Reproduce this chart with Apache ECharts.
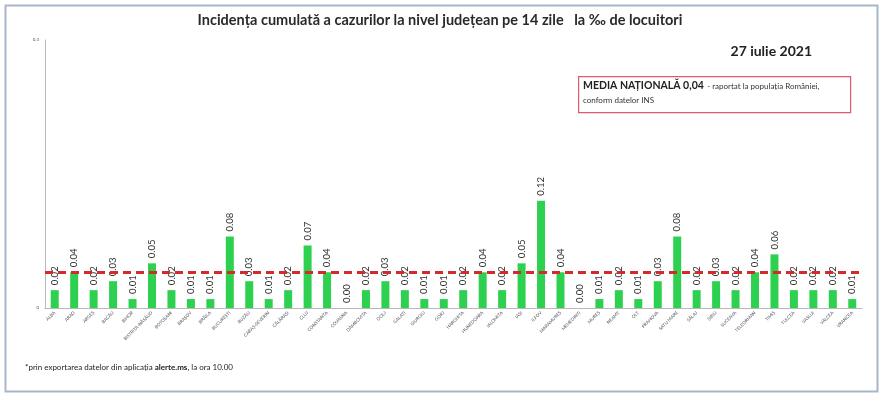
<!DOCTYPE html>
<html>
<head>
<meta charset="utf-8">
<script src="https://cdn.jsdelivr.net/npm/echarts@6/dist/echarts.min.js"></script>
<style>
  html, body { margin: 0; padding: 0; background: #fff; }
  #chart { width: 880px; height: 397px; }
</style>
</head>
<body>
<div id="chart"></div>
<script>
// judete, in ordinea din grafic
var judete = ['ALBA', 'ARAD', 'ARGEȘ', 'BACĂU', 'BIHOR', 'BISTRIȚA-NĂSĂUD', 'BOTOȘANI', 'BRAȘOV',
    'BRĂILA', 'BUCUREȘTI', 'BUZĂU', 'CARAȘ-SEVERIN', 'CĂLĂRAȘI', 'CLUJ', 'CONSTANȚA', 'COVASNA',
    'DÂMBOVIȚA', 'DOLJ', 'GALAȚI', 'GIURGIU', 'GORJ', 'HARGHITA', 'HUNEDOARA', 'IALOMIȚA', 'IAȘI',
    'ILFOV', 'MARAMUREȘ', 'MEHEDINȚI', 'MUREȘ', 'NEAMȚ', 'OLT', 'PRAHOVA', 'SATU MARE', 'SĂLAJ',
    'SIBIU', 'SUCEAVA', 'TELEORMAN', 'TIMIȘ', 'TULCEA', 'VASLUI', 'VÂLCEA', 'VRANCEA'];
var incidenta = [0.02, 0.04, 0.02, 0.03, 0.01, 0.05, 0.02, 0.01, 0.01, 0.08, 0.03, 0.01, 0.02, 0.07,
    0.04, 0.00, 0.02, 0.03, 0.02, 0.01, 0.01, 0.02, 0.04, 0.02, 0.05, 0.12, 0.04, 0.00, 0.01, 0.02,
    0.01, 0.03, 0.08, 0.02, 0.03, 0.02, 0.04, 0.06, 0.02, 0.02, 0.02, 0.01];
var mediaNationala = 0.04;
var yMin = 0, yMax = 0.3;

var myChart = echarts.init(document.getElementById('chart'));
var font = 'Lato, "Noto Sans", sans-serif';

option = {
    backgroundColor: '#fff',
    animation: false,
    textStyle: { fontFamily: font },
    title: {
        text: 'Incidența cumulată a cazurilor la nivel județean pe 14 zile   la ‰ de locuitori',
        left: 'center',
        top: 8,
        textStyle: { fontSize: 14.5, fontWeight: 'bold', color: '#2a2a2a', fontFamily: font }
    },
    grid: { left: 45, right: 18, top: 40, bottom: 89 },
    xAxis: {
        type: 'category',
        data: judete,
        axisLine: { lineStyle: { color: '#b8b8b8' } },
        axisTick: { show: false },
        axisLabel: { interval: 0, rotate: 45, fontSize: 4.5, color: '#555', margin: 4 }
    },
    yAxis: {
        type: 'value',
        min: yMin,
        max: yMax,
        interval: 0.3,
        splitLine: { show: false },
        axisTick: { show: false },
        axisLine: { show: true, lineStyle: { color: '#b8b8b8' } },
        axisLabel: { fontSize: 4.5, color: '#555', margin: 6 }
    },
    series: [{
        type: 'bar',
        data: incidenta,
        barWidth: 8,
        itemStyle: { color: '#2ed14f' },
        label: {
            show: true,
            position: 'top',
            rotate: 90,
            align: 'left',
            verticalAlign: 'middle',
            distance: 5,
            fontSize: 9.5,
            color: '#333',
            formatter: function (p) { return p.value.toFixed(2); }
        },
        markLine: {
            symbol: 'none',
            silent: true,
            label: { show: false },
            lineStyle: { color: '#d42a2a', type: [8, 5], width: 3 },
            data: [{ yAxis: mediaNationala }]
        }
    }],
    graphic: [
        {
            type: 'rect',
            left: 3, top: 3,
            shape: { width: 872, height: 386 },
            style: { fill: 'none', stroke: '#a7b7c9', lineWidth: 2 }
        },
        {
            type: 'text',
            right: 68, top: 44,
            style: { text: '27 iulie 2021', font: 'bold 14px ' + font, fill: '#222' }
        },
        {
            type: 'rect',
            left: 578, top: 76,
            shape: { width: 272, height: 36 },
            style: { fill: '#fff', stroke: '#e05a68', lineWidth: 1.2 }
        },
        {
            type: 'text',
            left: 583, top: 80,
            style: {
                text: '{b|MEDIA NAȚIONALĂ 0,04} {s|- raportat la populația României,}\n{s|conform datelor INS}',
                rich: {
                    b: { font: 'bold 10.5px ' + font, fill: '#222', lineHeight: 14 },
                    s: { font: '8px ' + font, fill: '#333', lineHeight: 14 }
                }
            }
        },
        {
            type: 'text',
            left: 25, top: 363,
            style: {
                text: '{s|*prin exportarea datelor din aplicația }{b|alerte.ms}{s|, la ora 10.00}',
                rich: {
                    s: { font: '8px ' + font, fill: '#222' },
                    b: { font: 'bold 8px ' + font, fill: '#222' }
                }
            }
        }
    ]
};

myChart.setOption(option);
</script>
</body>
</html>
